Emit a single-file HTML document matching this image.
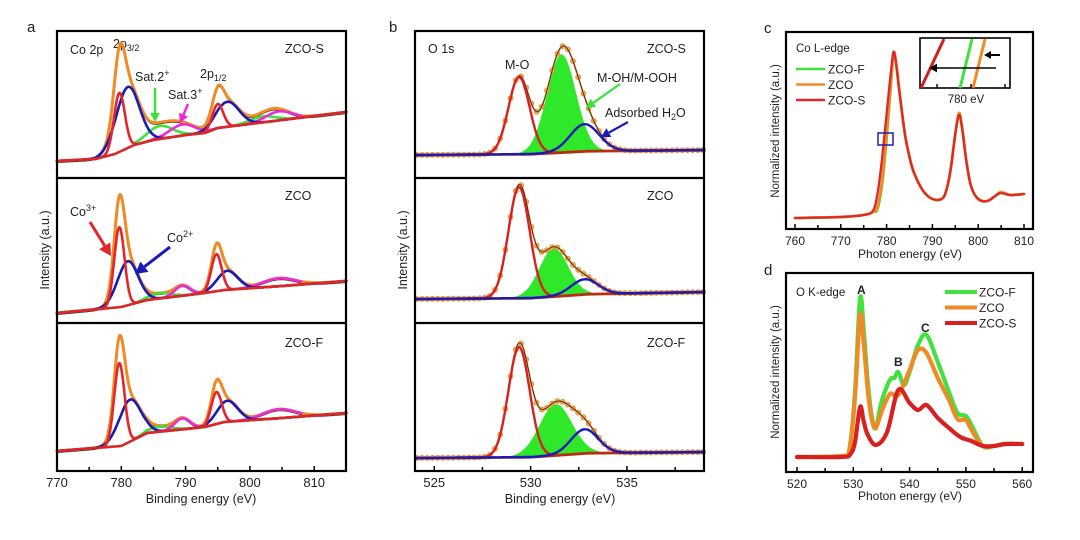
<!DOCTYPE html>
<html><head><meta charset="utf-8"><style>
html,body{margin:0;padding:0;background:#fff;}
svg{display:block;font-family:"Liberation Sans",Arial,sans-serif;}
</style></head><body>
<svg id="fig" width="1080" height="540" viewBox="0 0 1080 540" xmlns="http://www.w3.org/2000/svg">
<g id="static" font-size="12.5" fill="#222">
  <text x="27" y="32" font-size="15">a</text>
  <text x="389" y="32" font-size="15">b</text>
  <text x="764" y="33" font-size="15">c</text>
  <text x="764" y="275" font-size="15">d</text>
  <text x="70" y="54">Co 2p</text>
  <text x="113" y="48">2p<tspan font-size="9" dy="3">3/2</tspan></text>
  <text x="285" y="53">ZCO-S</text>
  <text x="135" y="81">Sat.2<tspan font-size="9" dy="-5">+</tspan></text>
  <text x="168" y="99">Sat.3<tspan font-size="9" dy="-5">+</tspan></text>
  <text x="200" y="78">2p<tspan font-size="9" dy="3">1/2</tspan></text>
  <text x="285" y="200">ZCO</text>
  <text x="70" y="216">Co<tspan font-size="9" dy="-5">3+</tspan></text>
  <text x="167" y="242">Co<tspan font-size="9" dy="-5">2+</tspan></text>
  <text x="285" y="347">ZCO-F</text>
  <text transform="translate(49,250) rotate(-90)" text-anchor="middle">Intensity (a.u.)</text>
  <text x="201" y="503" text-anchor="middle">Binding energy (eV)</text>
  <text x="428" y="53">O 1s</text>
  <text x="505" y="69">M-O</text>
  <text x="647" y="53">ZCO-S</text>
  <text x="597" y="82">M-OH/M-OOH</text>
  <text x="605" y="117">Adsorbed H<tspan font-size="9" dy="3">2</tspan><tspan dy="-3">O</tspan></text>
  <text x="647" y="200">ZCO</text>
  <text x="647" y="347">ZCO-F</text>
  <text transform="translate(407,250) rotate(-90)" text-anchor="middle">Intensity (a.u.)</text>
  <text x="560" y="503" text-anchor="middle">Binding energy (eV)</text>
  <text x="796" y="52" font-size="11.5">Co L-edge</text>
  <text transform="translate(779,131) rotate(-90)" text-anchor="middle" font-size="11.5">Normalized intensity (a.u.)</text>
  <text x="910" y="258" text-anchor="middle" font-size="12">Photon energy (eV)</text>
  <text x="966" y="103" text-anchor="middle" font-size="11.5">780 eV</text>
  <text x="796" y="296" font-size="11.5">O K-edge</text>
  <text x="857" y="294" font-size="12" font-weight="bold">A</text>
  <text x="894" y="366" font-size="12" font-weight="bold">B</text>
  <text x="921" y="332" font-size="12" font-weight="bold">C</text>
  <text transform="translate(779,372) rotate(-90)" text-anchor="middle" font-size="11.5">Normalized intensity (a.u.)</text>
  <text x="910" y="500" text-anchor="middle" font-size="12">Photon energy (eV)</text>
</g>
<g id="plots"></g>
</svg>
<script>
// ---------- Panel a data ----------
const aS_bg=[[770,17],[776,19],[779,24],[782,33],[785,38],[790,43],[793,45],[795,50],[800,54],[805,58],[815,66]];
const aS_red=[[779.7,59,0.85],[795,24,0.85]];
const aS_blue=[[781,61,1.8],[796.5,25,1.8]];
const aS_green=[[786,13,2],[802,6,2]];
const aS_mag=[[789.5,11,2],[804.5,9,2]];
const aZ_bg=[[770,10],[780,16],[784,23],[793,30],[796,33],[805,37],[815,42]];
const aZ_red=[[779.7,80,0.8],[794.8,37,0.8]];
const aZ_blue=[[781,44,1.6],[796.5,19,1.6]];
const aZ_green=[[786,5,1.8]];
const aZ_mag=[[789.5,10,1.2],[804.5,8,2.5]];
const aF_bg=[[770,20],[780,25],[784,38],[793,44],[796,49],[805,53],[815,58]];
const aF_red=[[779.7,83,0.8],[794.8,32,0.8]];
const aF_blue=[[781.3,42,1.7],[796.5,21,1.6]];
const aF_green=[[786,5,1.8]];
const aF_mag=[[789.5,11,1.2],[804.5,9,2.5]];
const aTicks=[770,780,790,800,810];
// ---------- Panel b data ----------
const bS_bg=[[524,23],[530,24],[533,27],[539,28]];
const bS_red=[[529.4,77,0.55]];
const bS_green=[[531.6,98,0.75]];
const bS_blue=[[532.8,27,0.75]];
const bZ_bg=[[524,24],[530,25],[533,29],[539,31]];
const bZ_red=[[529.4,111,0.55]];
const bZ_green=[[531.2,48,0.75]];
const bZ_blue=[[532.8,15,0.7]];
const bF_bg=[[524,13],[530,14],[533,18],[539,19]];
const bF_red=[[529.4,110,0.55]];
const bF_green=[[531.3,51,0.85]];
const bF_blue=[[532.8,24,0.7]];
const bTicks=[525,530,535];
// ---------- Panel c data ----------
const cS=[[760,11],[770,12],[775,14],[777,18],[778,35],[779,70],[780,115],[781,160],[781.5,177],[782,168],[783,130],[784,95],[785,72],[786,56],[788,38],[790,30],[792,30],[793,38],[794,60],[795,95],[795.8,114],[796.5,100],[797.5,65],[798.5,42],[800,30],[802,28],[804,34],[805,36],[807,34],[810,35]];
const cZ=[[760,11],[770,12],[775,14],[777,17],[778,22],[779,48],[780,95],[781,150],[781.5,176],[782,168],[783,130],[784,95],[785,72],[786,56],[788,38],[790,30],[792,30],[793,38],[794,60],[795,95],[795.8,116],[796.5,101],[797.5,65],[798.5,42],[800,30],[802,28],[804,34],[805,37],[807,34],[810,35]];
const cF=[[760,11],[770,12],[775,14],[777,17],[778,20],[779,44],[780,90],[781,148],[781.5,175],[782,168],[783,130],[784,95],[785,72],[786,56],[788,38],[790,30],[792,30],[793,38],[794,60],[795,95],[795.8,113],[796.5,100],[797.5,65],[798.5,42],[800,30],[802,28],[804,34],[805,36],[807,34],[810,35]];
const cTicks=[760,770,780,790,800,810];
// ---------- Panel d data ----------
const dS=[[520,15],[528,15],[529.5,18],[530.3,30],[531.2,65],[531.8,52],[532.5,38],[534,27],[536,40],[538,82],[540,69],[541.5,62],[543,67],[545,54],[547,44],[549,35],[551,31],[553,26],[555,26],[557,28],[560,28]];
const dZ=[[520,15],[528,16],[529.3,22],[530.3,75],[531.2,157],[531.9,125],[532.6,80],[533.3,52],[534,44],[535,60],[536.5,78],[538,77],[540,102],[541.5,122],[543,119],[545,94],[547,72],[548.5,53],[550,52],[551,42],[553,26],[555,26],[557,28],[560,28]];
const dF=[[520,15],[528,16],[529.3,23],[530.3,80],[531.2,174],[531.9,138],[532.6,88],[533.3,55],[534,44],[535,70],[536.5,92],[537.3,94],[538,100],[539,87],[540,100],[541.5,127],[543,137],[545,110],[547,80],[548.5,59],[550,56],[551,47],[553,26],[555,26],[557,28],[560,28]];
const dTicks=[520,530,540,550,560];

const NS='http://www.w3.org/2000/svg';
const root=document.getElementById('plots');
function mk(tag,at,parent){const e=document.createElementNS(NS,tag);for(const k in at)e.setAttribute(k,at[k]);(parent||root).appendChild(e);return e;}
function interp(p,x){if(x<=p[0][0])return p[0][1];for(let i=1;i<p.length;i++){if(x<=p[i][0]){const t=(x-p[i-1][0])/(p[i][0]-p[i-1][0]);return p[i-1][1]+t*(p[i][1]-p[i-1][1]);}}return p[p.length-1][1];}
function gsum(arr,x){let s=0;for(const q of arr)s+=q[1]*Math.exp(-((x-q[0])**2)/(2*q[2]*q[2]));return s;}
function pathD(xs,fx,fy){return xs.map((x,i)=>(i?'L':'M')+fx(x).toFixed(1)+','+fy(x).toFixed(1)).join('');}
function range(a,b,st){const r=[];for(let x=a;x<=b+1e-9;x+=st)r.push(+x.toFixed(4));return r;}
function smooth(pts){let d='M'+pts[0][0].toFixed(1)+','+pts[0][1].toFixed(1);
  for(let i=0;i<pts.length-1;i++){const p0=pts[Math.max(0,i-1)],p1=pts[i],p2=pts[i+1],p3=pts[Math.min(pts.length-1,i+2)];
    const c1=[p1[0]+(p2[0]-p0[0])/6,p1[1]+(p2[1]-p0[1])/6],c2=[p2[0]-(p3[0]-p1[0])/6,p2[1]-(p3[1]-p1[1])/6];
    d+='C'+c1[0].toFixed(1)+','+c1[1].toFixed(1)+' '+c2[0].toFixed(1)+','+c2[1].toFixed(1)+' '+p2[0].toFixed(1)+','+p2[1].toFixed(1);}
  return d;}

function frame(x,y,w,h,name){const r=mk('rect',{x:x,y:y,width:w,height:h,fill:'none',stroke:'#000','stroke-width':2.2});

}
function hline(x1,x2,y,name){const l=mk('line',{x1:x1,x2:x2,y1:y,y2:y,stroke:'#000','stroke-width':2.2});

}
function ticks(X,yb,vals,minor,name,fs){
  for(const v of vals){const t=mk('line',{x1:X(v),x2:X(v),y1:yb,y2:yb-5,stroke:'#000','stroke-width':1.5});
    
    
    const l=mk('text',{x:X(v),y:yb+16,'text-anchor':'middle','font-size':fs,fill:'#222'});l.textContent=v;
    
    }
  for(const v of minor){const t=mk('line',{x1:X(v),x2:X(v),y1:yb,y2:yb-4,stroke:'#000','stroke-width':1.5});
    
    }
}
function line(d,color,w,name){const p=mk('path',{d:d,fill:'none',stroke:color,'stroke-width':w,'stroke-linejoin':'round','stroke-linecap':'round'});

return p;}

// ---------- Panel a ----------
const XA=e=>57+(e-770)*6.43;
function xpsA(bottom,bg,red,blue,green,mag,tag){
  const xs=range(770,815,0.1);const Y=v=>bottom-v;
  const tot=x=>interp(bg,x)+gsum(red,x)+gsum(blue,x)+gsum(green,x)+gsum(mag,x);
  line(pathD(xs,XA,x=>Y(tot(x))+1.2),'#111',1.6,'data-'+tag);
  line(pathD(xs,XA,x=>Y(tot(x))),'#f08a24',3,'envelope-'+tag);
  const gx=range(782,808,0.1);
  line(pathD(gx,XA,x=>Y(interp(bg,x)+gsum(green,x))),'#3ee03a',2.6,'sat2-'+tag);
  line(pathD(gx,XA,x=>Y(interp(bg,x)+gsum(mag,x))),'#ea2bd6',2.6,'sat3-'+tag);
  line(pathD(xs,XA,x=>Y(interp(bg,x)+gsum(blue,x))),'#1a1ab8',2.6,'co2-'+tag);
  line(pathD(xs,XA,x=>Y(interp(bg,x)+gsum(red,x))),'#e3262a',2.6,'co3-'+tag);
  line(pathD(xs,XA,x=>Y(interp(bg,x))),'#d9282a',2.6,'background-'+tag);
}
xpsA(178,aS_bg,aS_red,aS_blue,aS_green,aS_mag,'a-zco-s');
xpsA(323,aZ_bg,aZ_red,aZ_blue,aZ_green,aZ_mag,'a-zco');
xpsA(471,aF_bg,aF_red,aF_blue,aF_green,aF_mag,'a-zco-f');
frame(57,31,289,440,'frame-a');hline(57,346,178,'divider-a1');hline(57,346,323,'divider-a2');
ticks(XA,471,aTicks,[775,785,795,805],'x-axis-a',13);

// ---------- Panel b ----------
const XB=e=>415+(e-524)*19.27;
function xpsB(bottom,bg,red,green,blue,tag){
  const xs=range(524,539,0.05);const Y=v=>bottom-v;
  const tot=x=>interp(bg,x)+gsum(red,x)+gsum(green,x)+gsum(blue,x);
  const gx=range(527.5,535.5,0.05);
  const fill=pathD(gx,XB,x=>Y(interp(bg,x)+gsum(green,x)))+gx.slice().reverse().map(x=>'L'+XB(x).toFixed(1)+','+Y(interp(bg,x)).toFixed(1)).join('')+'Z';
  const f=mk('path',{d:fill,fill:'#2fe82a',stroke:'none'});
  
  
  line(pathD(xs,XB,x=>Y(tot(x))),'#f0a050',2,'envelope-'+tag);
  const dots=mk('g',{fill:'#f5a24a',stroke:'#e08a30','stroke-width':0.6});
  
  
  for(const x of range(524.1,539,0.27)){const c=mk('circle',{cx:XB(x).toFixed(1),cy:Y(tot(x)).toFixed(1),r:2.6},dots);
    
    }
  line(pathD(xs,XB,x=>Y(tot(x))),'#222',0.8,'data-line-'+tag);
  line(pathD(xs,XB,x=>Y(interp(bg,x)+gsum(red,x))),'#d82020',2.4,'m-o-'+tag);
  line(pathD(xs,XB,x=>Y(interp(bg,x))+0.5),'#b03010',2.2,'background-'+tag);
  line(pathD(xs,XB,x=>Y(interp(bg,x)+gsum(blue,x))),'#1a1ab8',2.4,'h2o-'+tag);
}
xpsB(178,bS_bg,bS_red,bS_green,bS_blue,'b-zco-s');
xpsB(323,bZ_bg,bZ_red,bZ_green,bZ_blue,'b-zco');
xpsB(471,bF_bg,bF_red,bF_green,bF_blue,'b-zco-f');
frame(415,31,289,440,'frame-b');hline(415,704,178,'divider-b1');hline(415,704,323,'divider-b2');
ticks(XB,471,bTicks,[527.5,532.5,537.5],'x-axis-b',13);

function arrow(x1,y1,x2,y2,color,w,name,hs){
  const a=Math.atan2(y2-y1,x2-x1);const h=hs||9;
  const bx=x2-h*Math.cos(a),by=y2-h*Math.sin(a);
  const g=mk('g',{});
  
  
  mk('line',{x1:x1,y1:y1,x2:bx,y2:by,stroke:color,'stroke-width':w},g);
  const p1=[bx+h*0.55*Math.sin(a),by-h*0.55*Math.cos(a)],p2=[bx-h*0.55*Math.sin(a),by+h*0.55*Math.cos(a)];
  mk('polygon',{points:`${x2},${y2} ${p1[0]},${p1[1]} ${p2[0]},${p2[1]}`,fill:color},g);
}
arrow(155,88,155,122,'#3ee03a',2.5,'sat2-arrow');
arrow(188,104,180,123,'#ea2bd6',2.5,'sat3-arrow');
arrow(90,222,111,256,'#e3262a',3,'co3-arrow',12);
arrow(170,247,135,274,'#1a1ab8',3,'co2-arrow',12);
arrow(620,84,586,108,'#3ee03a',2.2,'m-oh-arrow');
arrow(628,122,601,137,'#1a1ab8',2.2,'h2o-arrow');

// ---------- Panel c ----------
const XC=e=>795+(e-760)*4.58;
const YC=v=>229-v;
function xas(data,X,Y,color,w,name){line(smooth(data.map(p=>[X(p[0]),Y(p[1])])),color,w,name);}
xas(cF,XC,YC,'#44e040',2.8,'curve-c-zco-f');
xas(cZ,XC,YC,'#f08a24',2.8,'curve-c-zco');
xas(cS,XC,YC,'#e0282a',2.3,'curve-c-zco-s');
frame(786,32,247,197,'frame-c');
ticks(XC,229,cTicks,[765,775,785,795,805],'x-axis-c',12);
const box=mk('rect',{x:878,y:133,width:15,height:12,fill:'none',stroke:'#2020b0','stroke-width':1.5});


const legC=[['ZCO-F','#44e040'],['ZCO','#f08a24'],['ZCO-S','#e0282a']];
legC.forEach((l,i)=>{const y=69+i*15.5;
  const ln=mk('line',{x1:796,x2:825,y1:y,y2:y,stroke:l[1],'stroke-width':2.6});
  
  
  const t=mk('text',{x:828,y:y+4.5,'font-size':12,fill:'#222'});t.textContent=l[0];
  
  });
const inset=mk('g',{});


mk('rect',{x:920,y:38,width:90,height:50,fill:'#fff',stroke:'#000','stroke-width':1.6},inset);
mk('line',{x1:921,y1:88,x2:944,y2:39,stroke:'#d02020','stroke-width':3},inset);
mk('line',{x1:960,y1:88,x2:972,y2:39,stroke:'#44e040','stroke-width':3},inset);
mk('line',{x1:973,y1:88,x2:985,y2:39,stroke:'#f08a24','stroke-width':3},inset);
[937,971,1005].forEach(x=>mk('line',{x1:x,x2:x,y1:88,y2:84,stroke:'#000','stroke-width':1.4},inset));
arrow(1000,55,984,55,'#000',2,'inset-arrow-short',7);
arrow(996,68,929,68,'#000',1.6,'inset-arrow-long',8);

// ---------- Panel d ----------
const XD=e=>797+(e-520)*5.63;
const YD=v=>472-v;
xas(dF,XD,YD,'#44e040',4.2,'curve-d-zco-f');
xas(dZ,XD,YD,'#f08a24',4.2,'curve-d-zco');
xas(dS,XD,YD,'#d82020',4.2,'curve-d-zco-s');
frame(786,273,247,199,'frame-d');
ticks(XD,472,dTicks,[525,535,545,555],'x-axis-d',12);
const legD=[['ZCO-F','#44e040'],['ZCO','#f08a24'],['ZCO-S','#d82020']];
legD.forEach((l,i)=>{const y=292+i*15.5;
  const ln=mk('line',{x1:945,x2:977,y1:y,y2:y,stroke:l[1],'stroke-width':4});
  
  
  const t=mk('text',{x:979,y:y+4.5,'font-size':12,fill:'#222'});t.textContent=l[0];
  
  });
</script>
</body></html>
